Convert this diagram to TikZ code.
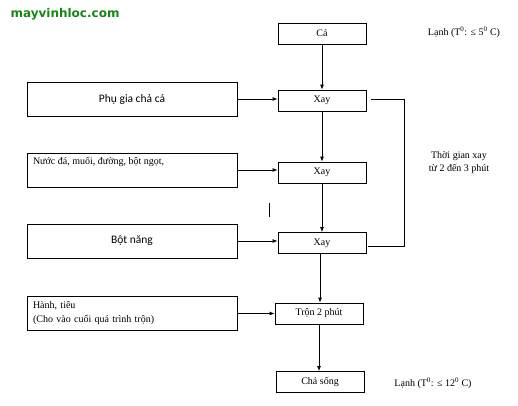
\documentclass[tikz,border=0pt]{standalone}
\usepackage{fontspec}
\setmainfont{Liberation Serif}
\newfontfamily\calibri{Carlito}
\newfontfamily\webfont{DejaVu Sans}
\usetikzlibrary{arrows.meta,positioning}
\definecolor{sitegreen}{RGB}{20,135,20}

\begin{document}
\begin{tikzpicture}[x=1pt, y=-1pt, line width=0.8pt,
  stepbox/.style={draw, minimum width=88pt, minimum height=21pt, inner sep=0pt, font=\fontsize{10}{12}\selectfont},
  inbox/.style={draw, minimum width=210pt, minimum height=34pt, inner sep=0pt},
  flow/.style={-{Latex[length=5pt,width=4pt]}},
  note/.style={font=\fontsize{10}{13}\selectfont, align=center}]
\useasboundingbox (0,0) rectangle (518,405);

% Site name
\node[font=\webfont\bfseries\fontsize{12}{14}\selectfont, text=sitegreen] (site) at (65,14) {mayvinhloc.com};

% Main line
\node[stepbox] (ca) at (322,33.5) {Cá};
\node[stepbox] (xay1) at (322,100.5) {Xay};
\node[stepbox] (xay2) at (322,172.5) {Xay};
\node[stepbox] (xay3) at (322,243) {Xay};
\node[stepbox] (tron) at (319,313.5) {Trộn 2 phút};
\node[stepbox] (cha) at (320,382) {Chả sống};

% Additives
\node[inbox, font=\calibri\fontsize{11.5}{13}\selectfont] (phugia) at (132,99) {Phụ gia chả cá};
\node[inbox, label={[anchor=north west, inner sep=0pt, xshift=6pt, yshift=-4pt, font=\fontsize{10}{12}\selectfont]north west:Nước đá, muối, đường, bột ngọt,}] (nuoc) at (132,170) {};
\node[inbox, font=\calibri\fontsize{11.5}{13}\selectfont] (botnang) at (132,241) {Bột năng};
\node[inbox, text width=198pt, align=left, font=\fontsize{10}{14}\selectfont] (hanh) at (132,313.5) {Hành, tiêu\\(Cho vào cuối quá trình trộn)};

% Arrows
\draw[flow] (ca.south) -- (xay1.north);
\draw[flow] (xay1.south) -- (xay2.north);
\draw[flow] (xay2.south) -- (xay3.north);
\draw[flow] ([xshift=-2pt]xay3.south) -- ([xshift=-2pt]xay3.south |- tron.north);
\draw[flow] (tron.south) -- (tron.south |- cha.north);
\draw[flow] (phugia.east) -- (xay1.west |- phugia.east);
\draw[flow] (nuoc.east) -- (xay2.west |- nuoc.east);
\draw[flow] (botnang.east) -- (xay3.west |- botnang.east);
\draw[flow] (hanh.east) -- (tron.west);

% Mixing time bracket
\coordinate (brtop) at (404,99);
\coordinate (brbot) at (404,246);
\draw ([xshift=5pt]xay1.east |- brtop) -- (brtop) -- (brbot) -- ([xshift=2pt]xay3.east |- brbot);
\node[note] (thoigian) at (459,162.5) {Thời gian xay\\từ 2 đến 3 phút};

% Stray mark
\draw (269,203) -- (269,217);

% Temperatures
\node[note] (lanh1) at (464,32) {Lạnh (T\textsuperscript{0}: ≤ 5\textsuperscript{0} C)};
\node[note] (lanh2) at (433,383) {Lạnh (T\textsuperscript{0}: ≤ 12\textsuperscript{0} C)};
\end{tikzpicture}
\end{document}
